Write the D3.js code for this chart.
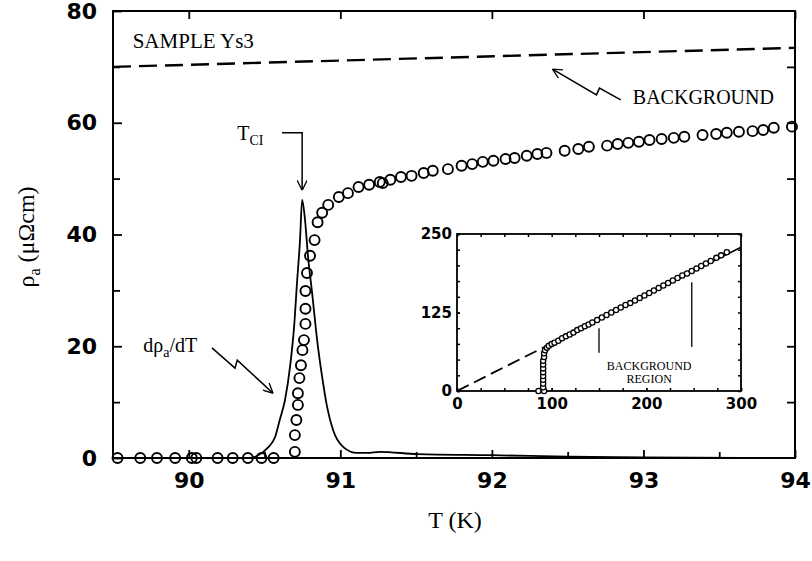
<!DOCTYPE html>
<html>
<head>
<meta charset="utf-8">
<script src="https://cdn.jsdelivr.net/npm/d3@7"></script>
<style>
body { margin: 0; background: #fff; }
.tick line { stroke: #000; }
</style>
</head>
<body>
<div id="chart"></div>
<script>
// ---- main panel: resistivity points (T in K, rho in micro-ohm cm)
var rhoT = [89.53, 89.68, 89.79, 89.91, 90.02, 90.05, 90.19, 90.29, 90.39, 90.48, 90.56,
    90.70, 90.70, 90.71, 90.72, 90.72, 90.73, 90.74, 90.75, 90.76, 90.77, 90.77, 90.77, 90.78,
    90.80, 90.83, 90.85, 90.88, 90.92, 90.99, 91.05, 91.12, 91.19, 91.26,
    91.28, 91.33, 91.40, 91.47, 91.55, 91.61, 91.71, 91.80, 91.87, 91.94, 92.01, 92.09, 92.15,
    92.23, 92.30, 92.36, 92.48, 92.57, 92.64, 92.76, 92.83, 92.90, 92.97, 93.04, 93.12, 93.20,
    93.27, 93.39, 93.48, 93.55, 93.63, 93.72, 93.79, 93.86, 93.98];
var rhoVal = [0, 0, 0, 0, 0, 0, 0, 0, 0, 0, 0,
    1.1, 4.1, 6.8, 9.5, 11.6, 14.3, 16.6, 19.3, 21.1, 24.0, 26.7, 29.9, 33.1,
    36.2, 39.0, 42.2, 43.9, 45.3, 46.7, 47.4, 48.5, 48.9, 49.4,
    49.2, 49.8, 50.3, 50.5, 51.0, 51.4, 51.7, 52.3, 52.6, 53.0, 53.2, 53.5, 53.7,
    54.1, 54.4, 54.6, 55.0, 55.3, 55.7, 55.9, 56.2, 56.4, 56.6, 56.9, 57.1, 57.3,
    57.5, 57.8, 58.0, 58.2, 58.4, 58.5, 58.7, 59.1, 59.3];

// derivative curve (arbitrary units, drawn on the same axis)
var dT = [89.5, 90.40, 90.45, 90.52, 90.57, 90.60, 90.635, 90.668, 90.695, 90.714, 90.734, 90.748,
    90.767, 90.787, 90.814, 90.847, 90.88, 90.913, 90.952, 91.018, 91.11, 91.18, 91.26, 91.51,
    92.0, 92.5, 93.0, 94.0];
var dVal = [0, 0, 0.36, 1.8, 3.8, 6.8, 10.4, 16.3, 23.5, 31.3, 39.0, 46.2,
    42.6, 36.0, 29.5, 21.1, 14.5, 9.1, 5.0, 2.0, 0.9, 0.9, 1.1, 0.7,
    0.5, 0.25, 0.1, 0];

// background line
var bgT = [89.5, 94];
var bgVal = [70.0, 73.4];

var xTicks = [90, 91, 92, 93, 94];
var xMinor = [90.5, 91.5, 92.5, 93.5];
var yTicks = [0, 20, 40, 60, 80];
var yMinor = [10, 30, 50, 70];

// ---- inset: wide range resistivity
var insT = [86, 92, 91, 91, 91, 91, 91, 91, 91, 91, 92, 92, 93, 95, 97, 100, 103, 107, 111, 115,
    119, 123, 127, 131, 135, 139, 143, 148, 153, 158, 163, 168, 173, 178, 183, 188, 193, 198,
    203, 208, 213, 218, 223, 228, 233, 238, 243, 248, 253, 258, 263, 268, 274, 279, 285];
var insVal = [0, 0, 6, 12, 18, 24, 30, 36, 42, 48, 54, 60, 65, 69, 72, 75, 77, 80, 84, 87,
    90, 93, 97, 100, 103, 106, 109, 113, 117, 121, 125, 129, 133, 137, 140, 144, 148, 152,
    156, 160, 164, 168, 172, 176, 180, 184, 187, 191, 195, 199, 203, 207, 212, 216, 221];
var insLineT = [0, 100, 300];
var insLineVal = [0, 76, 229];
var insXTicks = [0, 100, 200, 300];
var insYTicks = [0, 125, 250];
var insMinor = d3.range(0, 301, 25);

var w = 812, h = 561;
var tickFont = "'DejaVu Sans', sans-serif";
var serif = "'Liberation Serif', 'Times New Roman', serif";

var svg = d3.select("#chart")
    .append("svg")
    .attr("width", w)
    .attr("height", h)
    .style("background", "#fff");

var defs = svg.append("defs");
defs.append("marker")
    .attr("id", "head")
    .attr("viewBox", "0 0 10 10")
    .attr("refX", 10).attr("refY", 5)
    .attr("markerWidth", 10).attr("markerHeight", 10)
    .attr("markerUnits", "userSpaceOnUse")
    .attr("orient", "auto")
    .append("path")
    .attr("d", "M0,0 L10,5 L0,10")
    .attr("fill", "none")
    .attr("stroke", "#000")
    .attr("stroke-width", 1.3);

var x = d3.scaleLinear().domain([89.5, 94]).range([113, 795]);
var y = d3.scaleLinear().domain([0, 80]).range([458, 11]);

// axes, ticks pointing inward
var gx = svg.append("g")
    .attr("transform", "translate(0," + y(0) + ")")
    .call(d3.axisBottom(x).tickValues(xTicks).tickSize(-8).tickPadding(14).tickFormat(d3.format("d")));
gx.append("g").call(d3.axisBottom(x).tickValues(xMinor).tickSize(-6).tickFormat(""));

var gxTop = svg.append("g")
    .attr("transform", "translate(0," + y(80) + ")")
    .call(d3.axisTop(x).tickValues(xTicks).tickSize(-8).tickFormat(""));

var gy = svg.append("g")
    .attr("transform", "translate(" + x(89.5) + ",0)")
    .call(d3.axisLeft(y).tickValues(yTicks).tickSize(-9).tickPadding(16).tickFormat(d3.format("d")));
gy.append("g").call(d3.axisLeft(y).tickValues(yMinor).tickSize(-7).tickFormat(""));

var gyR = svg.append("g")
    .attr("transform", "translate(" + x(94) + ",0)")
    .call(d3.axisRight(y).tickValues(d3.range(10, 80, 10)).tickSize(-8).tickFormat(""));

svg.selectAll(".domain").remove();
svg.selectAll(".tick line").attr("stroke-width", 1.8);
svg.selectAll(".tick text")
    .style("font-family", tickFont)
    .style("font-weight", "bold")
    .style("font-size", "22px")
    .attr("fill", "#000");

// frame
svg.append("rect")
    .attr("x", x(89.5)).attr("y", y(80))
    .attr("width", x(94) - x(89.5)).attr("height", y(0) - y(80))
    .attr("fill", "none").attr("stroke", "#000").attr("stroke-width", 2);

// background dashed line
var bgData = bgT.map(function (t, i) { return [t, bgVal[i]]; });
svg.append("path")
    .datum(bgData)
    .attr("d", d3.line().x(function (d) { return x(d[0]); }).y(function (d) { return y(d[1]); }))
    .attr("fill", "none").attr("stroke", "#000")
    .attr("stroke-width", 2.4).attr("stroke-dasharray", "18,8");

// derivative curve
var dData = dT.map(function (t, i) { return [t, dVal[i]]; });
svg.append("path")
    .datum(dData)
    .attr("d", d3.line().curve(d3.curveMonotoneX)
        .x(function (d) { return x(d[0]); }).y(function (d) { return y(d[1]); }))
    .attr("fill", "none").attr("stroke", "#000").attr("stroke-width", 1.8);

// data circles
var rhoData = rhoT.map(function (t, i) { return [t, rhoVal[i]]; });
svg.selectAll("circle.pt")
    .data(rhoData)
    .enter()
    .append("circle")
    .attr("class", "pt")
    .attr("cx", function (d) { return x(d[0]); })
    .attr("cy", function (d) { return y(d[1]); })
    .attr("r", 5)
    .attr("fill", "none")
    .attr("stroke", "#000")
    .attr("stroke-width", 1.9);

// annotations
svg.append("text")
    .attr("x", x(89.63)).attr("y", y(73.3))
    .style("font-family", serif).style("font-size", "21px")
    .text("SAMPLE Ys3");

svg.append("text")
    .attr("x", x(92.93)).attr("y", y(63.4))
    .style("font-family", serif).style("font-size", "20px")
    .text("BACKGROUND");

var lineXY = d3.line().x(function (d) { return x(d[0]); }).y(function (d) { return y(d[1]); });

// lightning arrow to background line
svg.append("path")
    .datum([[92.85, 64.1], [92.71, 66.2], [92.69, 65.0], [92.40, 69.6]])
    .attr("d", lineXY)
    .attr("fill", "none").attr("stroke", "#000").attr("stroke-width", 1.5)
    .attr("marker-end", "url(#head)");

// T_CI label and arrow
var tci = svg.append("text")
    .attr("x", x(90.32)).attr("y", y(56.9))
    .style("font-family", serif).style("font-size", "20px");
tci.append("tspan").text("T");
tci.append("tspan").attr("dy", 5).style("font-size", "14px").text("CI");

svg.append("path")
    .datum([[90.615, 58.2], [90.748, 58.2], [90.748, 47.9]])
    .attr("d", lineXY)
    .attr("fill", "none").attr("stroke", "#000").attr("stroke-width", 1.5)
    .attr("marker-end", "url(#head)");

// d rho / dT label and arrow
var dl = svg.append("text")
    .attr("x", x(89.70)).attr("y", y(19.0))
    .style("font-family", serif).style("font-size", "20px");
dl.append("tspan").text("dρ");
dl.append("tspan").attr("dy", 5).style("font-size", "14px").text("a");
dl.append("tspan").attr("dy", -5).text("/dT");

svg.append("path")
    .datum([[90.153, 19.7], [90.305, 16.1], [90.32, 17.5], [90.556, 11.6]])
    .attr("d", lineXY)
    .attr("fill", "none").attr("stroke", "#000").attr("stroke-width", 1.5)
    .attr("marker-end", "url(#head)");

// axis titles
svg.append("text")
    .attr("x", 455).attr("y", 528)
    .attr("text-anchor", "middle")
    .style("font-family", serif).style("font-size", "24px")
    .text("T (K)");

var yl = svg.append("text")
    .attr("transform", "translate(34,237) rotate(-90)")
    .attr("text-anchor", "middle")
    .style("font-family", serif).style("font-size", "24px");
yl.append("tspan").text("ρ");
yl.append("tspan").attr("dy", 6).style("font-size", "16px").text("a");
yl.append("tspan").attr("dy", -6).text("  (μΩcm)");

// ---- inset
var x2 = d3.scaleLinear().domain([0, 300]).range([457, 741]);
var y2 = d3.scaleLinear().domain([0, 250]).range([391, 234]);
var inset = svg.append("g");

inset.append("rect")
    .attr("x", x2(0)).attr("y", y2(250))
    .attr("width", x2(300) - x2(0)).attr("height", y2(0) - y2(250))
    .attr("fill", "#fff");

inset.append("g").attr("transform", "translate(0," + y2(0) + ")")
    .call(d3.axisBottom(x2).tickValues(insMinor).tickSize(-3).tickFormat(""));
inset.append("g").attr("transform", "translate(0," + y2(0) + ")")
    .call(d3.axisBottom(x2).tickValues(insXTicks).tickSize(-3).tickPadding(7).tickFormat(d3.format("d")));
inset.append("g").attr("transform", "translate(0," + y2(250) + ")")
    .call(d3.axisTop(x2).tickValues(insMinor).tickSize(-3).tickFormat(""));
inset.append("g").attr("transform", "translate(" + x2(0) + ",0)")
    .call(d3.axisLeft(y2).tickValues(d3.range(0, 251, 25)).tickSize(-3).tickFormat(""));
inset.append("g").attr("transform", "translate(" + x2(0) + ",0)")
    .call(d3.axisLeft(y2).tickValues(insYTicks).tickSize(-3).tickPadding(5).tickFormat(d3.format("d")));
inset.append("g").attr("transform", "translate(" + x2(300) + ",0)")
    .call(d3.axisRight(y2).tickValues(d3.range(0, 251, 25)).tickSize(-3).tickFormat(""));

inset.selectAll(".domain").remove();
inset.selectAll(".tick line").attr("stroke-width", 1.5);
inset.selectAll(".tick text")
    .style("font-family", tickFont)
    .style("font-weight", "bold")
    .style("font-size", "15px")
    .attr("fill", "#000");

inset.append("rect")
    .attr("x", x2(0)).attr("y", y2(250))
    .attr("width", x2(300) - x2(0)).attr("height", y2(0) - y2(250))
    .attr("fill", "none").attr("stroke", "#000").attr("stroke-width", 1.8);

var line2 = d3.line().x(function (d) { return x2(d[0]); }).y(function (d) { return y2(d[1]); });
var insLine = insLineT.map(function (t, i) { return [t, insLineVal[i]]; });

// dashed extrapolation below the data, solid through the data
inset.append("path")
    .datum(insLine.slice(0, 2))
    .attr("d", line2)
    .attr("fill", "none").attr("stroke", "#000")
    .attr("stroke-width", 1.8).attr("stroke-dasharray", "13,6");
inset.append("path")
    .datum(insLine.slice(1))
    .attr("d", line2)
    .attr("fill", "none").attr("stroke", "#000").attr("stroke-width", 1.6);

var insData = insT.map(function (t, i) { return [t, insVal[i]]; });
inset.selectAll("circle")
    .data(insData)
    .enter()
    .append("circle")
    .attr("cx", function (d) { return x2(d[0]); })
    .attr("cy", function (d) { return y2(d[1]); })
    .attr("r", 2.6)
    .attr("fill", "#fff")
    .attr("stroke", "#000")
    .attr("stroke-width", 1.3);

// background region markers
inset.append("line")
    .attr("x1", x2(150)).attr("x2", x2(150))
    .attr("y1", y2(100)).attr("y2", y2(61))
    .attr("stroke", "#000").attr("stroke-width", 1.3);
inset.append("line")
    .attr("x1", x2(248)).attr("x2", x2(248))
    .attr("y1", y2(173)).attr("y2", y2(70))
    .attr("stroke", "#000").attr("stroke-width", 1.3);

inset.append("text")
    .attr("x", x2(203)).attr("y", y2(34))
    .attr("text-anchor", "middle")
    .style("font-family", serif).style("font-size", "12px")
    .text("BACKGROUND");
inset.append("text")
    .attr("x", x2(203)).attr("y", y2(12))
    .attr("text-anchor", "middle")
    .style("font-family", serif).style("font-size", "12px")
    .text("REGION");
</script>
</body>
</html>
